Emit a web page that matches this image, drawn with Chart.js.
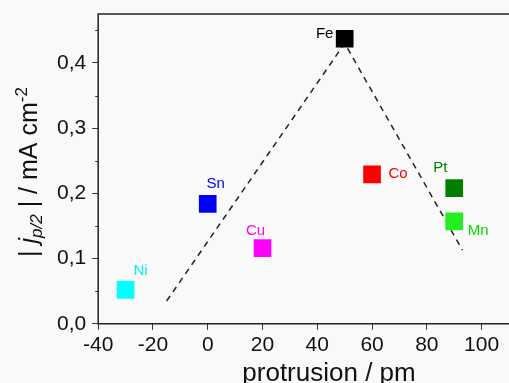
<!DOCTYPE html>
<html>
<head>
<meta charset="utf-8">
<script src="https://cdn.jsdelivr.net/npm/chart.js@4"></script>
<style>
  html, body { margin: 0; padding: 0; background: #f9f9f9; }
  #wrap { width: 509px; height: 383px; }
</style>
</head>
<body>
<div id="wrap"><canvas id="c" width="509" height="383"></canvas></div>
<script>
// metals and their values
const metals = ['Ni', 'Sn', 'Cu', 'Fe', 'Co', 'Pt', 'Mn'];
const protrusion = [-30, 0, 20, 50, 60, 90, 90];
const current = [0.052, 0.184, 0.116, 0.437, 0.229, 0.208, 0.157];
const colors = ['#00ffff', '#0000ff', '#ff00ff', '#000000', '#ff0000', '#007f00', '#22ee22'];
const labelColors = ['#00f0f0', '#0000ff', '#ff00ff', '#000000', '#ff0000', '#007f00', '#00e000'];
// label offsets from the marker (px)
const labelDx = [15, 8, -7, -20, 26, -14, 24];
const labelDy = [-19, -20, -17, -5, -1, -20, 9];

// dashed guide line (volcano)
const guideX = [-15, 50, 93];
const guideY = [0.035, 0.43, 0.113];

const xTicks = [-40, -20, 0, 20, 40, 60, 80, 100];
const fam = '"Liberation Sans", Arial, sans-serif';

const points = protrusion.map((x, i) => ({ x: x, y: current[i] }));
const guide = guideX.map((x, i) => ({ x: x, y: guideY[i] }));

const framePlugin = {
  id: 'frame',
  afterDraw(chart) {
    const { ctx, chartArea: a, scales } = chart;
    ctx.save();
    ctx.strokeStyle = '#222';
    ctx.lineWidth = 1.5;
    ctx.beginPath();
    ctx.moveTo(chart.width, a.top);
    ctx.lineTo(a.left, a.top);
    ctx.lineTo(a.left, a.bottom);
    ctx.lineTo(chart.width, a.bottom);
    ctx.stroke();
    // minor y ticks
    ctx.lineWidth = 1;
    ctx.strokeStyle = '#333';
    [0.05, 0.15, 0.25, 0.35, 0.45].forEach(v => {
      const y = Math.round(scales.y.getPixelForValue(v)) + 0.5;
      ctx.beginPath();
      ctx.moveTo(a.left - 3, y);
      ctx.lineTo(a.left, y);
      ctx.stroke();
    });
    // x axis title
    ctx.fillStyle = '#111';
    ctx.font = '26px ' + fam;
    ctx.textAlign = 'center';
    ctx.textBaseline = 'alphabetic';
    ctx.fillText('protrusion / pm', 329, 381);
    ctx.restore();
  }
};

const labelPlugin = {
  id: 'labels',
  afterDatasetsDraw(chart) {
    const { ctx, scales } = chart;
    ctx.save();
    ctx.font = '15px ' + fam;
    ctx.textAlign = 'center';
    ctx.textBaseline = 'middle';
    metals.forEach((m, i) => {
      const x = scales.x.getPixelForValue(protrusion[i]);
      const y = scales.y.getPixelForValue(current[i]);
      ctx.fillStyle = labelColors[i];
      ctx.fillText(m, x + labelDx[i], y + labelDy[i]);
    });
    ctx.restore();
  }
};

// y axis title with italic j, subscript and superscript
const yTitlePlugin = {
  id: 'ytitle',
  afterDraw(chart) {
    const { ctx } = chart;
    const F = 25, S = 17;
    const parts = [
      { t: '| ', f: F + 'px ' + fam, dy: 0 },
      { t: 'j', f: 'italic ' + F + 'px ' + fam, dy: 0 },
      { t: 'p/2', f: 'italic ' + S + 'px ' + fam, dy: 5 },
      { t: ' | / mA cm', f: F + 'px ' + fam, dy: 0 },
      { t: '-2', f: S + 'px ' + fam, dy: -10 }
    ];
    ctx.save();
    let total = 0;
    parts.forEach(p => { ctx.font = p.f; p.w = ctx.measureText(p.t).width; total += p.w; });
    ctx.translate(37, 172);
    ctx.rotate(-Math.PI / 2);
    ctx.fillStyle = '#111';
    ctx.textBaseline = 'alphabetic';
    let x = -total / 2;
    parts.forEach(p => {
      ctx.font = p.f;
      ctx.fillText(p.t, x, p.dy);
      x += p.w;
    });
    ctx.restore();
  }
};

new Chart(document.getElementById('c'), {
  type: 'scatter',
  data: {
    datasets: [
      {
        data: points,
        pointStyle: 'rect',
        pointRadius: 12.5,
        pointHoverRadius: 12.5,
        pointBackgroundColor: colors,
        pointBorderColor: colors,
        borderWidth: 0
      },
      {
        data: guide,
        showLine: true,
        borderColor: '#222',
        borderWidth: 1.5,
        borderDash: [6, 5],
        pointRadius: 0,
        fill: false
      }
    ]
  },
  options: {
    responsive: false,
    animation: false,
    events: [],
    layout: { autoPadding: false, padding: { left: 51, top: 14, right: 0, bottom: 22 } },
    plugins: { legend: { display: false }, tooltip: { enabled: false } },
    scales: {
      x: {
        type: 'linear',
        min: -40,
        max: 110,
        afterBuildTicks: s => { s.ticks = xTicks.map(v => ({ value: v })); },
        afterFit: s => { s.paddingRight = 0; s.paddingLeft = 0; },
        grid: { display: true, drawOnChartArea: false, drawTicks: true, tickLength: 6, color: '#333' },
        border: { display: false },
        ticks: { color: '#111', padding: 3, maxRotation: 0, font: { size: 21, family: fam } }
      },
      y: {
        min: 0,
        max: 0.475,
        afterFit: s => { s.paddingTop = 0; s.paddingBottom = 0; },
        ticks: {
          stepSize: 0.1,
          includeBounds: false,
          color: '#111',
          padding: 6,
          font: { size: 21, family: fam },
          callback: v => v.toFixed(1).replace('.', ',')
        },
        grid: { display: true, drawOnChartArea: false, drawTicks: true, tickLength: 6, color: '#333' },
        border: { display: false }
      }
    }
  },
  plugins: [framePlugin, labelPlugin, yTitlePlugin]
});
</script>
</body>
</html>
